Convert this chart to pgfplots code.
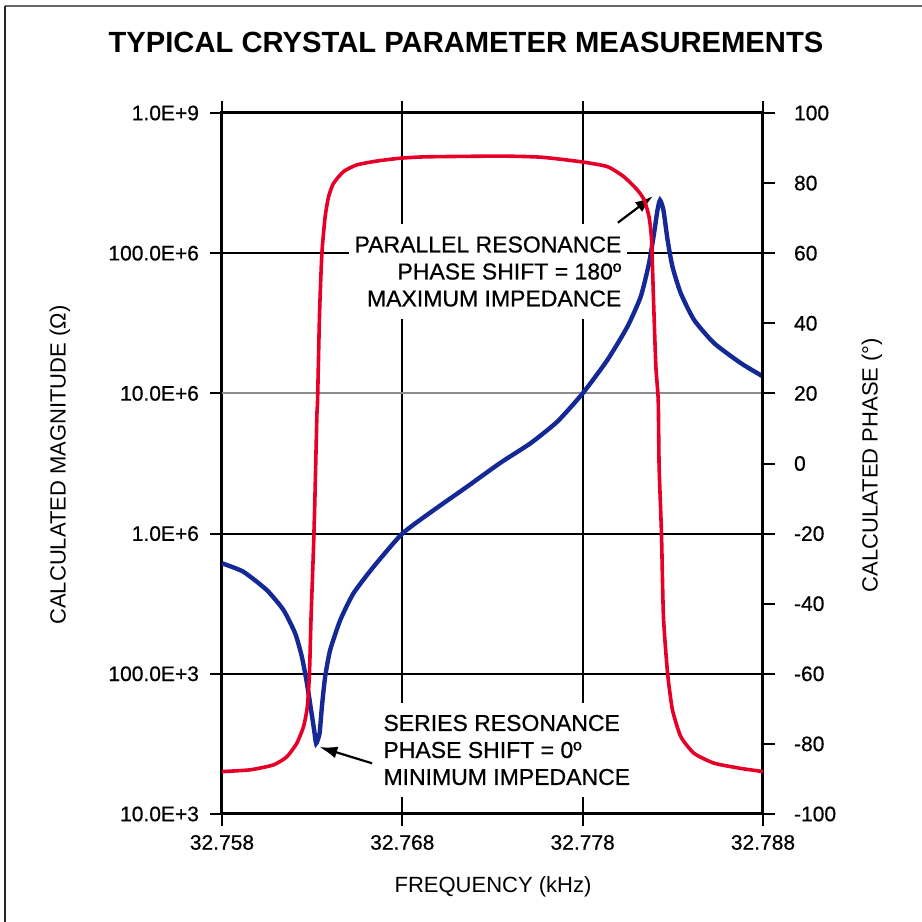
\documentclass[border=0pt]{standalone}
\usepackage{pgfplots}
\pgfplotsset{compat=1.18}
\usetikzlibrary{arrows.meta}
\usepackage{fontspec}
\setmainfont{Liberation Sans}
\newfontfamily\medfont{Liberation Sans}[FakeBold=0.6]

% x = frequency offset above 32.758 kHz, in Hz
% blue: calculated magnitude (ohm), left log axis
\pgfplotstableread{
x      mag
0.00   6.14e5
1.18   5.35e5
2.48   3.96e5
3.41   2.85e5
4.06   1.94e5
4.43   1.32e5
4.71   8.56e4
4.94   5.52e4
5.11   3.97e4
5.22   3.19e4
5.41   3.76e4
5.54   5.82e4
5.72   9.53e4
6.00   1.48e5
6.56   2.42e5
7.29   3.75e5
8.41   5.81e5
10.00  1.00e6
11.74  1.47e6
13.59  2.16e6
15.44  3.20e6
17.11  4.41e6
18.60  6.30e6
20.00  1.00e7
21.37  1.73e7
22.48  2.99e7
23.22  4.90e7
23.68  8.47e7
23.96  1.39e8
24.15  2.03e8
24.29  2.39e8
24.48  2.03e8
24.71  1.24e8
24.98  8.01e7
25.44  5.18e7
26.18  3.34e7
27.29  2.28e7
28.78  1.64e7
30.00  1.32e7
}\magdata

% red: calculated phase (deg), right axis
\pgfplotstableread{
x      phase
0.00   -87.9
1.56   -87.4
2.85   -86.0
3.59   -83.7
4.15   -79.8
4.52   -75.1
4.71   -70.3
4.79   -65.6
4.85   -59.9
4.89   -53.2
4.94   -43.7
5.07   -24.7
5.15   -10.4
5.26    13.4
5.30    18.0
5.41    42.9
5.54    60.0
5.72    70.4
5.91    76.1
6.18    79.9
6.74    83.3
7.48    85.2
8.59    86.3
9.89    87.1
11.37   87.5
15.44   87.7
17.67   87.4
19.89   86.1
21.37   84.7
22.29   81.8
23.04   78.0
23.41   75.2
23.68   70.4
23.82   63.8
23.93   46.6
24.06   27.6
24.19   18.1
24.24   -0.9
24.37  -19.9
24.48  -43.7
24.71  -59.9
24.98  -70.3
25.44  -77.9
26.18  -82.7
27.29  -85.5
28.78  -87.0
30.00  -87.9
}\phasedata

\definecolor{magblue}{RGB}{20,40,150}
\definecolor{phred}{RGB}{230,0,40}

\begin{document}
\begin{tikzpicture}
\useasboundingbox (-111pt,-54pt) rectangle (350pt,407pt);
\draw[black!60, line width=1pt] (-108.5pt,403.75pt) -- (350pt,403.75pt);
\draw[black!85, line width=1pt] (-108.5pt,404pt) -- (-108.5pt,-54pt);

\begin{axis}[
    at={(0,0)}, anchor=south west,
    scale only axis,
    width=270.5pt, height=350.5pt,
    xmin=0, xmax=30,
    ymode=log, ymin=1e4, ymax=1e9,
    xtick={0,10,20,30},
    xticklabels={32.758,32.768,32.778,32.788},
    ytick={1e4,1e5,1e6,1e7,1e8,1e9},
    yticklabels={10.0E+3,100.0E+3,1.0E+6,10.0E+6,100.0E+6,1.0E+9},
    minor tick num=0, yminorticks=false,
    tick align=outside, major tick length=6pt,
    axis line style={line width=1.5pt},
    every tick/.style={black, line width=1pt},
    xmajorgrids, ymajorgrids,
    major grid style={black, line width=1pt},
    tick label style={font=\medfont\fontsize{10.5}{12}\selectfont},
    yticklabel style={xshift=-2pt},
    xticklabel style={yshift=-1pt},
    clip=false,
]
\draw[black!45, line width=1.1pt] (axis cs:0,1e7) -- (axis cs:30,1e7);
\node[fill=white, align=right, anchor=east, inner xsep=3pt, inner ysep=6pt,
      font=\medfont\fontsize{11.5}{13.5}\selectfont] at (axis cs:22.5,7.4e7)
  {PARALLEL RESONANCE\\PHASE SHIFT = 180º\\MAXIMUM IMPEDANCE};
\node[fill=white, align=left, anchor=west, inner xsep=3pt, inner ysep=6pt,
      font=\medfont\fontsize{11.5}{13.5}\selectfont] at (axis cs:8.6,2.86e4)
  {SERIES RESONANCE\\PHASE SHIFT = 0º\\MINIMUM IMPEDANCE};
\addplot[magblue, line width=2.2pt, smooth, tension=0.35] table[x=x, y=mag] {\magdata};
\draw[-{Latex[length=9pt,width=6pt]}, line width=1.1pt] (axis cs:21.95,1.65e8) -- (axis cs:23.9,2.55e8);
\draw[-{Latex[length=9pt,width=6pt]}, line width=1.1pt] (axis cs:8.32,2.3e4) -- (axis cs:5.4,3.0e4);
\end{axis}

\begin{axis}[
    at={(0,0)}, anchor=south west,
    scale only axis,
    width=270.5pt, height=350.5pt,
    xmin=0, xmax=30,
    ymin=-100, ymax=100,
    axis x line=none,
    axis y line*=right,
    ytick={-100,-80,...,100},
    tick align=outside, major tick length=6pt,
    axis line style={line width=1.5pt},
    every tick/.style={black, line width=1pt},
    tick label style={font=\medfont\fontsize{10.5}{12}\selectfont},
    /pgf/number format/assume math mode=true,
    yticklabel style={xshift=6pt},
]
\addplot[phred, line width=1.8pt, smooth, tension=0.35] table[x=x, y=phase] {\phasedata};
\end{axis}

\node[font=\bfseries\fontsize{14.6}{16}\selectfont] at (122pt,386pt)
  {TYPICAL CRYSTAL PARAMETER MEASUREMENTS};
\node[font=\fontsize{11}{13}\selectfont] at (135.5pt,-36.5pt) {FREQUENCY (kHz)};
\node[rotate=90, font=\fontsize{11}{13}\selectfont] at (-81pt,174.5pt)
  {CALCULATED MAGNITUDE (Ω)};
\node[rotate=90, font=\fontsize{11}{13}\selectfont] at (325pt,174.5pt)
  {CALCULATED PHASE (°)};
\end{tikzpicture}
\end{document}
